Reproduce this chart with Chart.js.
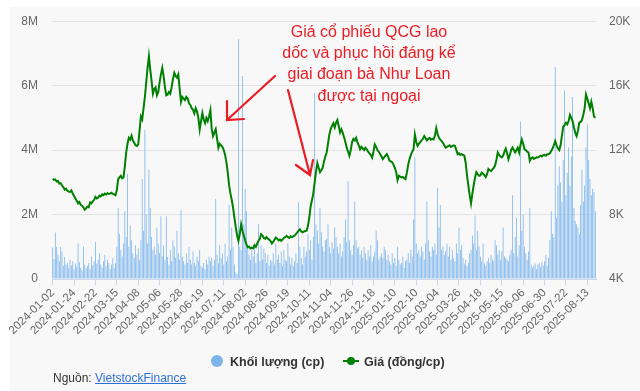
<!DOCTYPE html>
<html>
<head>
<meta charset="utf-8">
<script src="https://cdn.jsdelivr.net/npm/chart.js@4"></script>
<style>
  html, body { margin: 0; padding: 0; background: #fff; }
  body { width: 640px; height: 391px; position: relative; overflow: hidden; font-family: "Liberation Sans", Arial, sans-serif; }
  #chart { position: absolute; left: 0; top: 0; }
  .lg { position: absolute; font-weight: bold; font-size: 12.5px; color: #333; line-height: 14px; }
  .src { position: absolute; left: 53px; top: 371px; font-size: 12px; color: #333; }
  .src a { color: #2f6fd6; text-decoration: underline; }
</style>
</head>
<body>
<canvas id="chart" width="640" height="391"></canvas>

<div style="position:absolute;left:211px;top:355px;width:12px;height:12px;border-radius:50%;background:#7cb5ec;"></div>
<div class="lg" style="left:230px;top:355px;">Khối lượng (cp)</div>
<div style="position:absolute;left:343px;top:360px;width:16px;height:2px;background:#008000;"></div>
<div style="position:absolute;left:347px;top:357px;width:8px;height:8px;border-radius:50%;background:#008000;"></div>
<div class="lg" style="left:364px;top:355px;">Giá (đồng/cp)</div>
<div class="src">Nguồn: <a href="#">VietstockFinance</a></div>

<script>
document.addEventListener("DOMContentLoaded", function () {
    // market closed days (HOSE)
    const holidays = [
        "2024-02-08", "2024-02-09", "2024-02-12", "2024-02-13", "2024-02-14",
        "2024-04-18", "2024-04-29", "2024-04-30", "2024-05-01",
        "2024-09-02", "2024-09-03",
        "2025-01-01", "2025-01-27", "2025-01-28", "2025-01-29", "2025-01-30", "2025-01-31",
        "2025-04-07", "2025-04-30", "2025-05-01", "2025-05-02"
    ];

    // closing price, dong/share
    const price = [
        10220, 10150, 10180, 10050, 10080, 9920, 9950, 9800, 9700, 9540,
        9600, 9480, 9420, 9400, 9500, 9300, 9150, 9000, 8850, 8700,
        8780, 8600, 8550, 8450, 8300, 8380, 8500, 8450, 8760, 8700,
        8820, 8900, 9100, 9000, 9050, 9170, 9120, 9250, 9200, 9300,
        9250, 9320, 9280, 9300, 9350, 9280, 9250, 9200, 9500, 10200,
        10300, 10400, 10250, 10300, 11000, 11850, 12400, 12760, 12650, 12900,
        12600, 12450, 12300, 12260, 12350, 13200, 14080, 13900, 14600, 15300,
        16200, 17100, 17830, 17000, 16300, 15500, 15800, 15900, 15400, 15600,
        16200, 16700, 17100, 16600, 15900, 15400, 15450, 15600, 15500, 15900,
        16400, 16800, 16600, 16500, 16700, 15800, 15000, 15300, 15200, 15100,
        15300, 15200, 14900, 14800, 14600, 14500, 14280, 14600, 14400, 14000,
        13270, 13800, 14300, 13900, 13670, 14000, 13800, 14100, 14480, 13300,
        12870, 13100, 13300, 12700, 12150, 12400, 12300, 12200, 12000, 11700,
        11240, 10600, 9820, 9300, 8900, 8400, 7800, 7200, 6700, 6370,
        6800, 7390, 7000, 6700, 6400, 6150, 5970, 6000, 5900, 5950,
        5900, 6100, 6000, 6200, 6370, 6500, 6780, 6700, 6550, 6500,
        6600, 6500, 6450, 6350, 6200, 6300, 6450, 6570, 6500, 6400,
        6450, 6370, 6450, 6550, 6600, 6680, 6600, 6550, 6650, 6600,
        6650, 6700, 6780, 6900, 7000, 7080, 6950, 6900, 6950, 6980,
        7000, 7300, 7800, 8500, 8900, 9300, 10000, 10630, 11200, 10900,
        10630, 10750, 10900, 11300, 11600, 11850, 12400, 12960, 13300, 13500,
        13670, 13400, 13700, 13870, 13500, 13100, 13300, 13070, 12800, 12500,
        12150, 11900, 11650, 12000, 12500, 12700, 12600, 12760, 12500, 12300,
        12050, 12200, 12100, 12000, 12150, 12050, 11900, 11800, 11700, 11540,
        11900, 12350, 12200, 12000, 11900, 11750, 11600, 11440, 11550, 11650,
        11750, 11600, 11340, 11300, 11250, 11100, 10900, 10630, 10130, 10400,
        10350, 10300, 10330, 10250, 10200, 10600, 11100, 11440, 11700, 11900,
        12050, 12960, 12500, 12260, 12400, 12500, 12600, 12700, 12870, 12750,
        12600, 12700, 12760, 12650, 12700, 12660, 12900, 13370, 13000, 12760,
        12650, 12560, 12450, 12300, 12150, 12200, 12250, 12300, 12200, 12250,
        12300, 12260, 12000, 11750, 11800, 11700, 11750, 11700, 11650, 11200,
        10430, 9800, 9200, 8700, 9300, 9820, 10300, 10630, 10500, 10400,
        10430, 10600, 10530, 10450, 10330, 10500, 10830, 10750, 10700, 10800,
        10900, 11040, 11400, 11850, 11700, 11600, 11550, 11650, 11900, 12100,
        11800, 11440, 11700, 12000, 12150, 12000, 11850, 12000, 12150, 11850,
        12300, 12660, 12400, 12050, 12000, 11900, 11850, 11340, 11500, 11550,
        11450, 11500, 11550, 11540, 11600, 11650, 11600, 11680, 11700, 11650,
        11750, 11750, 11800, 11950, 12100, 12300, 12560, 12300, 12100, 12000,
        12300, 12900, 13470, 13550, 13700, 13600, 13800, 14180, 14000, 13800,
        13400, 13070, 12870, 13200, 13700, 13750, 13870, 14200, 14600, 15460,
        15200, 14900, 14600, 15000, 14600, 14080, 14000
    ];

    // traded volume, millions of shares
    const volume = [
        0.98, 0.62, 1.44, 1.0, 0.75, 0.55, 1.0, 0.85, 0.4, 0.68,
        0.45, 0.5, 0.35, 0.6, 0.42, 0.55, 0.3, 0.48, 0.38, 1.1,
        0.52, 0.35, 0.28, 1.0, 0.45, 0.33, 0.4, 0.5, 0.3, 0.7,
        0.42, 0.55, 1.15, 0.48, 0.6, 0.8, 0.45, 0.35, 0.55, 0.75,
        0.4, 0.6, 0.5, 0.3, 0.45, 0.65, 0.35, 0.5, 1.0, 2.2,
        1.4, 0.9, 0.7, 1.1, 2.1, 1.3, 3.26, 1.0, 1.66, 1.2,
        0.8, 0.65, 1.05, 0.75, 0.95, 0.6, 1.2, 3.1, 1.5, 4.63,
        2.0, 1.1, 3.4, 2.2, 1.3, 0.9, 1.0, 0.75, 1.6, 1.1,
        0.8, 1.95, 0.7, 1.05, 0.6, 1.95, 0.68, 0.45, 0.9, 0.55,
        1.2, 1.0, 0.65, 1.5, 0.8, 0.6, 2.13, 0.7, 0.55, 0.45,
        0.8, 0.5, 1.0, 0.6, 0.45, 0.85, 0.5, 0.4, 0.7, 0.55,
        0.9, 0.4, 0.35, 0.5, 0.3, 0.6, 0.45, 0.7, 0.55, 0.65,
        0.4, 0.6, 2.48, 0.75, 0.5, 1.05, 0.65, 0.8, 0.45, 1.1,
        0.55, 0.7, 2.3, 0.9, 1.6, 1.0, 0.45, 0.2, 0.15, 7.44,
        1.0, 0.9, 6.3, 1.7, 2.8, 2.1, 1.0, 0.75, 0.6, 0.9,
        0.7, 1.05, 0.5, 0.8, 1.7, 0.55, 1.05, 0.6, 0.95, 0.8,
        0.5, 0.75, 0.4, 0.6, 0.55, 0.8, 0.45, 1.1, 0.6, 0.75,
        0.5, 0.85, 0.4, 0.9, 0.6, 0.55, 1.1, 0.7, 0.45, 0.65,
        0.4, 0.55, 0.8, 0.5, 2.38, 1.0, 0.65, 0.45, 1.0, 0.7,
        0.85, 1.4, 0.9, 1.2, 0.6, 1.3, 5.78, 1.7, 1.5, 1.1,
        2.2, 1.45, 1.0, 0.85, 1.2, 1.25, 1.7, 1.0, 0.8, 1.15,
        0.95, 1.6, 1.3, 1.0, 0.8, 1.1, 0.7, 0.85, 1.3, 1.85,
        1.15, 3.03, 1.2, 0.9, 0.75, 1.05, 2.4, 1.2, 0.95, 1.0,
        0.75, 0.9, 0.65, 1.0, 0.8, 0.6, 0.9, 0.7, 1.05, 0.55,
        0.7, 0.85, 1.5, 1.2, 0.6, 0.7, 0.8, 0.65, 1.0, 0.9,
        0.6, 0.75, 0.55, 0.45, 0.8, 0.5, 0.65, 0.4, 1.0, 0.6,
        0.45, 0.5, 0.7, 0.35, 0.55, 0.6, 0.8, 0.5, 0.9, 0.7,
        1.85, 3.77, 1.1, 0.8, 0.9, 0.7, 1.0, 0.85, 0.6, 1.1,
        2.4, 1.2, 0.85, 0.7, 1.0, 0.9, 1.1, 0.75, 2.83, 1.6,
        2.3, 0.9, 1.0, 0.75, 0.85, 1.1, 0.7, 1.0, 0.6, 0.9,
        0.65, 0.55, 1.1, 0.8, 1.6, 0.9, 1.05, 0.65, 0.45, 0.6,
        0.4, 0.5, 0.8, 0.9, 1.35, 1.1, 1.97, 0.9, 1.5, 1.0,
        0.7, 0.55, 1.1, 0.48, 0.4, 0.55, 0.65, 0.5, 0.75, 0.6,
        0.55, 1.2, 1.05, 0.75, 0.9, 0.6, 0.85, 1.6, 0.7, 0.65,
        0.6, 0.55, 0.75, 0.9, 2.6, 0.8, 1.3, 1.9, 0.7, 1.05,
        4.89, 1.5, 2.0, 1.0, 0.8, 0.6, 0.85, 2.2, 0.43, 0.35,
        0.4, 0.48, 0.3, 0.45, 0.5, 0.38, 0.52, 0.42, 0.55, 0.75,
        0.4, 0.65, 1.2, 2.1, 1.4, 1.3, 6.58, 1.9, 2.9, 3.5,
        3.0, 2.4, 3.7, 5.85, 2.6, 3.3, 4.08, 2.9, 3.8, 5.65,
        2.2, 1.8, 1.7, 1.6, 1.4, 2.3, 3.4, 2.4, 2.9, 4.08,
        4.8, 3.7, 3.1, 2.6, 2.8, 2.7, 2.1
    ];

    const labelEvery = 16;
    const noteLines = [
        "Giá cổ phiếu QCG lao",
        "dốc và phục hồi đáng kể",
        "giai đoạn bà Như Loan",
        "được tại ngoại"
    ];

    // trading days from 2024-01-02, one per data point
    const dates = [];
    let d = new Date(Date.UTC(2024, 0, 2));
    while (dates.length < price.length) {
        const s = d.toISOString().slice(0, 10);
        const wd = d.getUTCDay();
        if (wd !== 0 && wd !== 6 && !holidays.includes(s)) dates.push(s);
        d.setUTCDate(d.getUTCDate() + 1);
    }

    const font = "'Liberation Sans', Arial, sans-serif";

    const bgPlugin = {
        id: "bg",
        beforeDraw(chart) {
            const c = chart.ctx;
            c.save();
            c.fillStyle = "#f8f8f8";
            c.fillRect(10, 7, chart.width - 10, chart.height - 7);
            c.restore();
        }
    };

    const notePlugin = {
        id: "note",
        afterDraw(chart) {
            const c = chart.ctx;
            c.save();
            c.fillStyle = "#ec1c24";
            c.font = "16px " + font;
            c.textAlign = "center";
            c.textBaseline = "alphabetic";
            noteLines.forEach((t, i) => c.fillText(t, 369, 37 + i * 21.2));
            c.strokeStyle = "#ec1c24";
            c.lineWidth = 2.2;
            c.lineCap = "round";
            c.beginPath();
            c.moveTo(275, 76); c.lineTo(227, 120);
            c.moveTo(227, 101); c.lineTo(227, 120); c.lineTo(244, 119);
            c.moveTo(288, 90); c.lineTo(310, 175);
            c.moveTo(296, 165); c.lineTo(310, 175); c.lineTo(313, 160);
            c.stroke();
            c.restore();
        }
    };

    new Chart(document.getElementById("chart"), {
        data: {
            labels: dates,
            datasets: [
                {
                    type: "line",
                    label: "Giá (đồng/cp)",
                    data: price,
                    yAxisID: "y1",
                    borderColor: "#008000",
                    borderWidth: 2,
                    pointRadius: 0,
                    tension: 0,
                    order: 0
                },
                {
                    type: "bar",
                    label: "Khối lượng (cp)",
                    data: volume,
                    yAxisID: "y",
                    backgroundColor: "#7cb5ec",
                    barPercentage: 0.6,
                    categoryPercentage: 1,
                    order: 1
                }
            ]
        },
        options: {
            responsive: false,
            animation: false,
            layout: { padding: { left: 10, top: 16, right: 0, bottom: 54 } },
            plugins: { legend: { display: false }, tooltip: { enabled: false } },
            scales: {
                x: {
                    type: "category",
                    offset: true,
                    afterBuildTicks: s => { s.ticks = s.ticks.filter(t => t.value % labelEvery === 0); },
                    afterFit: s => { s.height = 58; },
                    grid: { drawOnChartArea: false, drawTicks: true, tickLength: 6, color: "#ccd6eb", offset: false },
                    border: { display: true, color: "#ccd6eb" },
                    ticks: {
                        autoSkip: false, maxRotation: 45, minRotation: 45, padding: 1,
                        color: "#666", font: { family: font, size: 11.5 }
                    }
                },
                y: {
                    position: "left",
                    min: 0, max: 8,
                    afterFit: s => { s.width = 42; },
                    grid: { color: "#e3e3e3", drawTicks: false },
                    border: { display: false },
                    ticks: {
                        stepSize: 2, padding: 14, color: "#666",
                        font: { family: font, size: 12 },
                        callback: v => v === 0 ? "0" : v + "M"
                    }
                },
                y1: {
                    position: "right",
                    min: 4000, max: 20000,
                    afterFit: s => { s.width = 44; },
                    grid: { drawOnChartArea: false, drawTicks: false },
                    border: { display: false },
                    ticks: {
                        stepSize: 4000, padding: 13, color: "#666",
                        font: { family: font, size: 12 },
                        callback: v => v / 1000 + "K"
                    }
                }
            }
        },
        plugins: [bgPlugin, notePlugin]
    });
});
</script>
</body>
</html>
